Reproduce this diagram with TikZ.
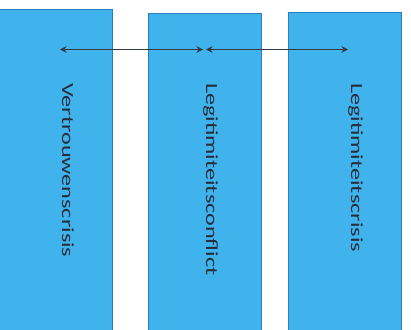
\documentclass[tikz,border=0pt]{standalone}
\usepackage{fontspec}
\setmainfont{Carlito}
\usetikzlibrary{arrows.meta}
\definecolor{boxfill}{RGB}{64,178,236}
\definecolor{boxline}{RGB}{44,124,190}
\definecolor{arrowcol}{RGB}{50,56,70}
\definecolor{textcol}{RGB}{38,46,60}
\begin{document}
\begin{tikzpicture}[x=1bp,y=-1bp,
  bar/.style={draw=boxline,fill=boxfill,line width=1bp},
  label/.style={rotate=-90,anchor=base west,inner sep=0pt,text=textcol},
  link/.style={draw=arrowcol,line width=1bp,{Stealth[length=6.5bp,width=6.5bp]}-{Stealth[length=6.5bp,width=6.5bp]}}]
\useasboundingbox (0,0) rectangle (411,330);
\fill[white] (0,0) rectangle (411,330);
\path[bar] (-2,9) rectangle (112,334);
\path[bar] (148,13) rectangle (261,334);
\path[bar] (288,12) rectangle (401,334);
\node[label] (t1) at (62,83) {\scalebox{1.42}[1]{\fontsize{17bp}{20bp}\selectfont Vertrouwenscrisis}};
\node[label] (t2) at (206,83) {\scalebox{1.42}[1]{\fontsize{17bp}{20bp}\selectfont Legitimiteitsconflict}};
\node[label] (t3) at (351,83) {\scalebox{1.42}[1]{\fontsize{17bp}{20bp}\selectfont Legitimiteitscrisis}};
\coordinate (a1) at (60,49.5);
\coordinate (a2) at (203,49.5);
\coordinate (a3) at (206,49.5);
\coordinate (a4) at (348,49.5);
\draw[link] (a1) -- (a2);
\draw[link] (a3) -- (a4);
\end{tikzpicture}
\end{document}
